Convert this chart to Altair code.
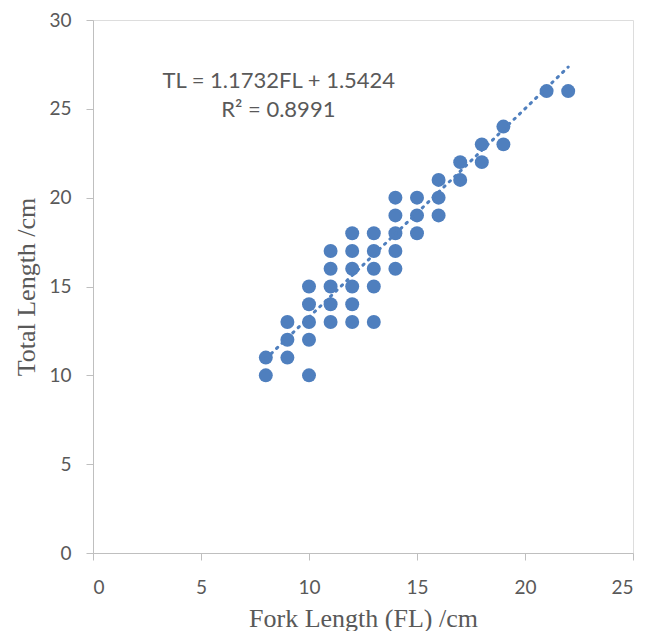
import altair as alt
import pandas as pd

fork_length = [8, 8, 9, 9, 9, 10, 10, 10, 10, 10,
               11, 11, 11, 11, 11, 12, 12, 12, 12, 12, 12,
               13, 13, 13, 13, 13, 14, 14, 14, 14, 14,
               15, 15, 15, 16, 16, 16, 17, 17, 18, 18, 19, 19, 21, 22]
total_length = [11, 10, 13, 12, 11, 15, 14, 13, 12, 10,
                17, 16, 15, 14, 13, 18, 17, 16, 15, 14, 13,
                18, 17, 16, 15, 13, 20, 19, 18, 17, 16,
                20, 19, 18, 21, 20, 19, 22, 21, 23, 22, 24, 23, 26, 26]

slope = 1.1732
intercept = 1.5424
trend_x = [8, 22]
trend_y = [slope * v + intercept for v in trend_x]

ann_text = ["TL = 1.1732FL + 1.5424", "R² = 0.8991"]
ann_x = [8.6, 8.58]
ann_y = [26.56, 24.93]

pts = pd.DataFrame({"FL": fork_length, "TL": total_length})
trend = pd.DataFrame({"FL": trend_x, "TL": trend_y})
ann = pd.DataFrame({"FL": ann_x, "TL": ann_y, "t": ann_text})

blue = "#4F7FBE"
grey = "#595959"

xscale = alt.Scale(domain=[0, 25], nice=False)
yscale = alt.Scale(domain=[0, 30], nice=False)

xaxis = alt.Axis(values=[0, 5, 10, 15, 20, 25], grid=False, title="Fork Length (FL) /cm",
                 domainColor="#BFBFBF", tickColor="#BFBFBF", tickSize=7,
                 labelFont="Lato", labelFontSize=19, labelColor=grey, labelPadding=18,
                 titleFont="Liberation Serif", titleFontSize=26, titleFontWeight="normal",
                 titleColor=grey, titlePadding=8)
yaxis = alt.Axis(values=[0, 5, 10, 15, 20, 25, 30], grid=False, title="Total Length /cm",
                 domainColor="#BFBFBF", tickColor="#BFBFBF", tickSize=7,
                 labelFont="Lato", labelFontSize=19, labelColor=grey, labelPadding=15,
                 titleFont="Liberation Serif", titleFontSize=26, titleFontWeight="normal",
                 titleColor=grey, titlePadding=9)

points = alt.Chart(pts).mark_circle(size=195, opacity=1, color=blue).encode(
    x=alt.X("FL:Q", scale=xscale, axis=xaxis),
    y=alt.Y("TL:Q", scale=yscale, axis=yaxis),
)

line = alt.Chart(trend).mark_line(color=blue, strokeWidth=3, strokeDash=[1.5, 6], strokeCap="round").encode(
    x=alt.X("FL:Q", scale=xscale),
    y=alt.Y("TL:Q", scale=yscale),
)

text = alt.Chart(ann).mark_text(font="Lato", fontSize=22, color=grey, align="center").encode(
    x=alt.X("FL:Q", scale=xscale),
    y=alt.Y("TL:Q", scale=yscale),
    text="t:N",
)

chart = alt.layer(points, line, text).properties(
    width=540, height=533,
    autosize=alt.AutoSizeParams(type="none"),
    padding={"left": 85, "top": 12, "right": 10, "bottom": 78},
).configure_view(stroke=None).configure(background="white")

chart.save("out.html", embed_options={"renderer": "svg", "actions": False})
